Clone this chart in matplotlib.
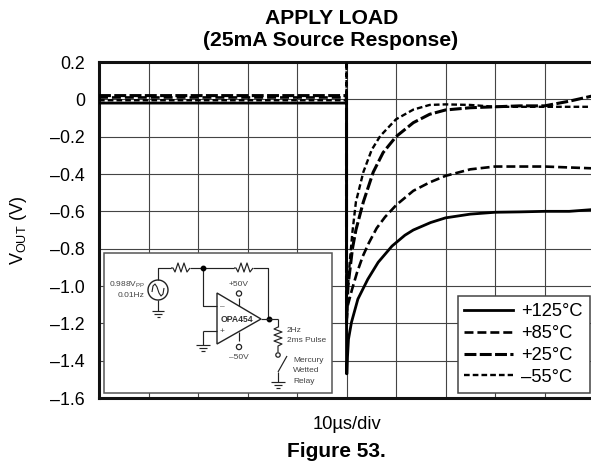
import matplotlib
matplotlib.use("Agg")
import matplotlib.pyplot as plt
from matplotlib.patches import Rectangle, Circle, Polygon

plt.rcParams['font.family'] = ['Liberation Sans', 'DejaVu Sans']
plt.rcParams['mathtext.fontset'] = 'custom'
plt.rcParams['mathtext.rm'] = 'Liberation Sans'
plt.rcParams['mathtext.default'] = 'regular'

W, H = 591, 465
title_1 = "APPLY LOAD"
title_2 = "(25mA Source Response)"
y_ticks = [0.2, 0, -0.2, -0.4, -0.6, -0.8, -1.0, -1.2, -1.4, -1.6]
y_labels = ["0.2", "0", "–0.2", "–0.4", "–0.6", "–0.8", "–1.0", "–1.2", "–1.4", "–1.6"]
x_divs = list(range(11))

x_125 = [0, 5, 5.0, 5.01, 5.02, 5.04, 5.10, 5.23, 5.43, 5.64, 5.92, 6.18, 6.35, 6.7, 7.0, 7.5, 8, 8.5, 9, 9.5, 10]
y_125 = [-0.02, -0.02, -1.47, -1.47, -1.38, -1.285, -1.195, -1.07, -0.964, -0.873, -0.786, -0.728, -0.70, -0.66, -0.635, -0.615, -0.605, -0.603, -0.60, -0.60, -0.59]
x_85 = [0, 5, 5.0, 5.02, 5.11, 5.21, 5.33, 5.45, 5.61, 5.78, 6.01, 6.35, 6.68, 7.0, 7.5, 8, 9, 10]
y_85 = [0.01, 0.01, -1.2, -1.11, -1.02, -0.93, -0.84, -0.77, -0.69, -0.63, -0.565, -0.49, -0.445, -0.41, -0.375, -0.36, -0.36, -0.37]
x_25 = [0, 5, 5.0, 5.03, 5.08, 5.12, 5.19, 5.34, 5.54, 5.74, 6.0, 6.35, 6.68, 7.0, 7.5, 8, 8.5, 9, 9.5, 10]
y_25 = [0.02, 0.02, -1.2, -1.0, -0.89, -0.80, -0.70, -0.55, -0.39, -0.285, -0.2, -0.125, -0.08, -0.057, -0.045, -0.04, -0.035, -0.035, -0.01, 0.02]
x_m55 = [0, 5, 5.0, 5.0, 5.03, 5.07, 5.12, 5.19, 5.34, 5.51, 5.68, 6.0, 6.35, 6.68, 7.0, 7.5, 8, 9, 10]
y_m55 = [-0.005, -0.005, 0.2, -1.2, -1.0, -0.857, -0.71, -0.55, -0.39, -0.27, -0.197, -0.107, -0.055, -0.03, -0.027, -0.03, -0.04, -0.04, -0.04]

fig = plt.figure(figsize=(W/100, H/100), dpi=100)
ax = fig.add_axes([99/W, 1-398/H, 495/W, 336/H])
ax.set_xlim(0, 10); ax.set_ylim(-1.6, 0.2)
ax.set_xticks(x_divs); ax.set_xticklabels([])
ax.set_yticks(y_ticks); ax.set_yticklabels(y_labels, fontsize=12.8)
ax.tick_params(length=0, pad=10)
ax.grid(True, color='#444444', lw=0.8)
ax.set_axisbelow(True)
for s in ax.spines.values():
    s.set_linewidth(2.2); s.set_color('#111111')

l1, = ax.plot(x_125, y_125, color='k', lw=2.0, label='+125°C', zorder=4)
l2, = ax.plot(x_85, y_85, color='k', lw=1.9, ls=(0, (3.4, 1.5)), label='+85°C', zorder=4)
l3, = ax.plot(x_25, y_25, color='k', lw=2.2, ls=(0, (3.9, 1.1)), label='+25°C', zorder=4)
l4, = ax.plot(x_m55, y_m55, color='k', lw=1.7, ls=(0, (2.4, 1.3)), label='–55°C', zorder=4)
for l in (l1, l2, l3, l4):
    l.set_dash_capstyle('butt')
    l.set_solid_joinstyle('round'); l.set_dash_joinstyle('round')

fig.text(331.5/W, 1-18/H, title_1, ha='center', va='center', fontsize=15.2, fontweight='bold')
fig.text(330.5/W, 1-40/H, title_2, ha='center', va='center', fontsize=15.2, fontweight='bold')
fig.text(346.5/W, 1-424/H, "10µs/div", ha='center', va='center', fontsize=13.2)
fig.text(336.5/W, 1-451.5/H, "Figure 53.", ha='center', va='center', fontsize=15, fontweight='bold')
fig.text(19/W, 1-230/H, r"V$_{OUT}$ (V)", rotation=90, ha='center', va='center', fontsize=13)

leg = fig.legend(handles=[l1, l2, l3, l4], loc='lower right',
                 bbox_to_anchor=(589.5/W, 1-392.5/H), bbox_transform=fig.transFigure,
                 fontsize=13.2, frameon=True, fancybox=False, framealpha=1,
                 edgecolor='#444444', borderpad=0.36, labelspacing=0.27,
                 handlelength=2.68, handletextpad=0.44, borderaxespad=0)
leg.get_frame().set_linewidth(1.1)
leg.set_zorder(20)

# Schematic inset drawn in pixel space
ov = fig.add_axes([0, 0, 1, 1], zorder=10)
ov.set_xlim(0, W); ov.set_ylim(H, 0); ov.axis('off'); ov.patch.set_alpha(0)
ov.add_patch(Rectangle((104, 253), 228, 140, fc='white', ec='#555555', lw=1.1))
c = '#222222'
def wire(xs, ys, lw=0.85):
    ov.plot(xs, ys, color=c, lw=lw, solid_capstyle='butt')
def txt(x, y, s, **k):
    k.setdefault('fontsize', 6.0); k.setdefault('color', '#444444'); k.setdefault('va', 'center')
    ov.text(x, y, s, **k)
def ground(x, y, w=7):
    wire([x-w, x+w], [y, y]); wire([x-w*0.6, x+w*0.6], [y+3, y+3]); wire([x-w*0.25, x+w*0.25], [y+6, y+6])
ry = [268, 268, 272, 263, 272, 263, 272, 268]
wire([158, 158, 171], [280, 268, 268]); wire([171, 173, 175, 178, 181, 184, 187, 190], ry)
wire([190, 234], [268, 268])
wire([234, 236, 238, 241, 244, 247, 250, 253], ry)
wire([253, 268, 268], [268, 268, 319])
wire([203, 203, 217], [268, 306, 306])
ov.add_patch(Circle((158, 290), 10, fc='white', ec=c, lw=1.0))
wire([152, 153, 155, 157, 159, 161, 163, 164], [292, 286, 284, 287, 293, 296, 294, 288], lw=0.8)
wire([158, 158], [300, 311]); ground(158, 311, 6)
ov.add_patch(Polygon([[217, 293], [217, 344], [261, 319]], closed=True, fc='white', ec=c, lw=1.0))
ov.plot([203, 269], [268, 319], ls='none', marker='o', ms=3.2, color='k')
wire([261, 278], [319, 319]); wire([278, 278], [319, 327])
wire([278, 274, 282, 274, 282, 274, 282, 278, 278], [327, 329, 332, 335, 338, 341, 344, 346, 352])
ov.add_patch(Circle((278, 355), 2.2, fc='white', ec=c, lw=0.9))
wire([278, 287], [372, 356]); wire([278, 278], [372, 382]); ground(278, 382, 7)
wire([203, 217], [331, 331]); wire([203, 203], [331, 345]); ground(203, 345, 7)
wire([239, 239], [306, 298]); wire([239, 239], [332, 341])
ov.add_patch(Circle((239, 293.5), 2.6, fc='white', ec=c, lw=0.9))
ov.add_patch(Circle((239, 347), 2.6, fc='white', ec=c, lw=0.9))
txt(145, 285, r"0.988V$_{PP}$", ha='right')
txt(145, 295, "0.01Hz", ha='right')
txt(239, 284, "+50V", ha='center')
txt(239, 357, "–50V", ha='center')
txt(237, 319, "OPA454", ha='center', fontweight='bold', color='#333333', fontsize=6.2)
txt(222, 306.5, "–", ha='center'); txt(222, 331, "+", ha='center')
txt(287, 330, "2Hz"); txt(287, 340, "2ms Pulse")
txt(293, 360, "Mercury"); txt(293, 370, "Wetted"); txt(293, 381, "Relay")

fig.savefig("out.png", dpi=100)
